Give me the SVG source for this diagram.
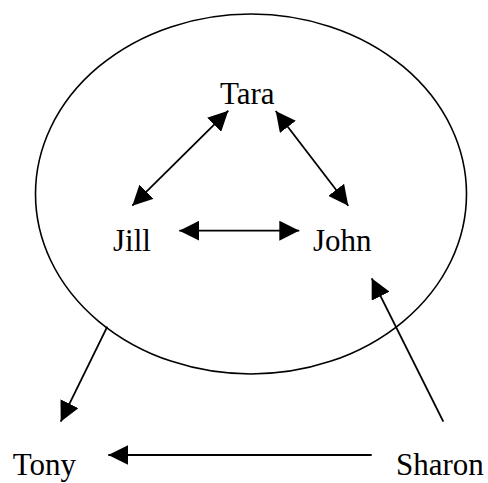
<svg xmlns="http://www.w3.org/2000/svg" width="488" height="483" viewBox="0 0 488 483">
<style>
.lbl{font-family:"Liberation Serif","Times New Roman",serif;font-size:31px;fill:#000}
.edge{stroke:#000;stroke-width:1.8;fill:none}
</style>
<defs>
<marker id="ah" markerUnits="userSpaceOnUse" markerWidth="20" markerHeight="20" viewBox="0 0 20 20" refX="20" refY="10" orient="auto-start-reverse">
<path d="M0,0 L20,10 L0,20 z" fill="#000"/>
</marker>
</defs>
<rect width="488" height="483" fill="#fff"/>
<g id="group-ellipse">
<ellipse cx="251" cy="194" rx="215.5" ry="180" fill="none" stroke="#000" stroke-width="1.6"/>
</g>
<g id="connectors">
<line class="edge" x1="132.3" y1="205.7" x2="228.3" y2="110.7" marker-start="url(#ah)" marker-end="url(#ah)"/>
<line class="edge" x1="275.7" y1="111" x2="348.3" y2="205.7" marker-start="url(#ah)" marker-end="url(#ah)"/>
<line class="edge" x1="179.3" y1="230.7" x2="299.3" y2="230.7" marker-start="url(#ah)" marker-end="url(#ah)"/>
<line class="edge" x1="107.3" y1="326.7" x2="60.7" y2="421.7" marker-end="url(#ah)"/>
<line class="edge" x1="443.3" y1="421.7" x2="371.7" y2="278.3" marker-end="url(#ah)"/>
<line class="edge" x1="371.7" y1="455" x2="108.3" y2="455" marker-end="url(#ah)"/>
</g>
<g id="node-tara"><text class="lbl" x="220" y="104">Tara</text></g>
<g id="node-jill"><text class="lbl" x="113" y="251">Jill</text></g>
<g id="node-john"><text class="lbl" x="313" y="251">John</text></g>
<g id="node-tony"><text class="lbl" x="12.7" y="475">Tony</text></g>
<g id="node-sharon"><text class="lbl" x="396" y="475">Sharon</text></g>
</svg>
